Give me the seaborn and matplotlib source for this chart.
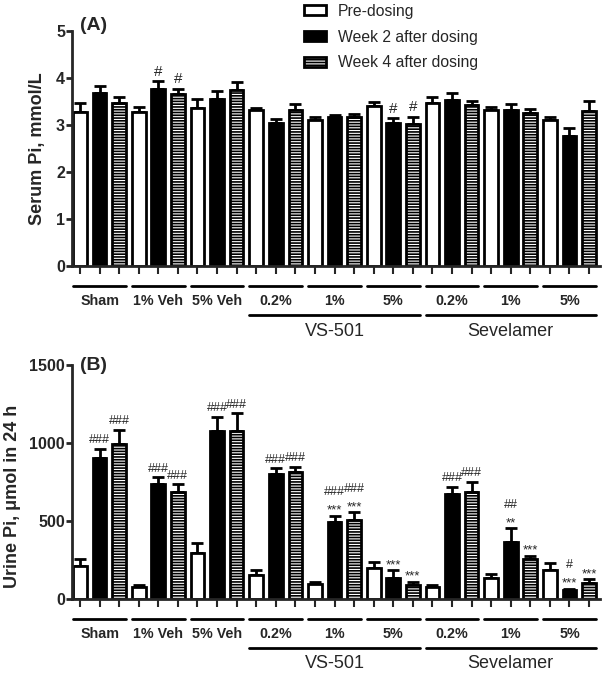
import numpy as np
import pandas as pd
import seaborn as sns
import matplotlib.pyplot as plt
import matplotlib.transforms as mtransforms
from matplotlib.patches import Patch

# data (mean, upper error)
groups = ['Sham', '1% Veh', '5% Veh', 'VS 0.2%', 'VS 1%', 'VS 5%', 'Sev 0.2%', 'Sev 1%', 'Sev 5%']
group_labels = ['Sham', '1% Veh', '5% Veh', '0.2%', '1%', '5%', '0.2%', '1%', '5%']
times = ['Pre-dosing', 'Week 2 after dosing', 'Week 4 after dosing']

serum_pre = [3.27, 3.28, 3.37, 3.31, 3.10, 3.41, 3.47, 3.31, 3.11]
serum_pre_sem = [0.20, 0.10, 0.19, 0.06, 0.07, 0.07, 0.12, 0.08, 0.07]
serum_wk2 = [3.69, 3.76, 3.56, 3.04, 3.18, 3.04, 3.54, 3.31, 2.76]
serum_wk2_sem = [0.14, 0.17, 0.16, 0.09, 0.04, 0.10, 0.14, 0.13, 0.17]
serum_wk4 = [3.47, 3.65, 3.75, 3.32, 3.17, 3.03, 3.42, 3.25, 3.30]
serum_wk4_sem = [0.13, 0.12, 0.17, 0.12, 0.07, 0.14, 0.10, 0.09, 0.22]
serum_hash_wk2 = ['', '#', '', '', '', '#', '', '', '']
serum_hash_wk4 = ['', '#', '', '', '', '#', '', '', '']

urine_pre = [213, 75, 294, 154, 96, 198, 77, 132, 184]
urine_pre_sem = [45, 17, 64, 34, 13, 41, 15, 28, 46]
urine_wk2 = [907, 736, 1077, 800, 491, 137, 672, 365, 55]
urine_wk2_sem = [55, 45, 92, 39, 42, 47, 49, 87, 11]
urine_wk4 = [994, 689, 1077, 811, 508, 92, 683, 254, 100]
urine_wk4_sem = [90, 45, 114, 38, 47, 19, 68, 23, 28]
urine_hash_wk2 = ['###', '###', '###', '###', '###', '', '###', '##', '#']
urine_hash_wk4 = ['###', '###', '###', '###', '###', '', '###', '', '']
urine_star_wk2 = ['', '', '', '', '***', '***', '', '**', '***']
urine_star_wk4 = ['', '', '', '', '***', '***', '', '***', '***']

sns.set_style('ticks')
plt.rcParams['font.family'] = ['Liberation Sans', 'DejaVu Sans']
plt.rcParams['font.weight'] = 'bold'
plt.rcParams['hatch.linewidth'] = 1.2
plt.rcParams['hatch.color'] = 'black'

fig = plt.figure(figsize=(6.03, 6.78), dpi=100)
axA = fig.add_axes([72/603, 1-266/678, 528/603, 235/678])
axB = fig.add_axes([72/603, 1-599/678, 528/603, 234/678])


def panel(ax, pre, wk2, wk4, errs, ymax, yticks, ylabel, tag, hash_size,
          hashes, stars=None, lab_pad=6, lab_y=0.5, tag_y=1.0):
    df = pd.DataFrame({'group': groups * 3,
                       'time': np.repeat(times, len(groups)),
                       'value': pre + wk2 + wk4})
    sns.barplot(data=df, x='group', y='value', hue='time', order=groups,
                hue_order=times, palette=['white', 'black', 'white'],
                saturation=1, width=1.0, gap=0.3, errorbar=None,
                edgecolor='black', linewidth=2, legend=False, ax=ax)
    for bar in ax.containers[2]:
        bar.set_hatch('------')

    centers = []
    tops = []
    for c, e in zip(ax.containers, errs):
        xs = [b.get_x() + b.get_width() / 2 for b in c]
        hs = [b.get_height() for b in c]
        ax.errorbar(xs, hs, yerr=[np.zeros(len(e)), e], fmt='none',
                    ecolor='black', elinewidth=2, capsize=4, capthick=2,
                    zorder=0.9)
        centers += xs
        tops.append([h + s for h, s in zip(hs, e)])

    # significance marks
    for k in (1, 2):
        xs = [b.get_x() + b.get_width() / 2 for b in ax.containers[k]]
        for i, x in enumerate(xs):
            top = tops[k][i]
            s = stars[k - 1][i] if stars else ''
            h = hashes[k - 1][i]
            if s:
                ax.annotate(s, (x, top), xytext=(0, 1.5), textcoords='offset points',
                            ha='center', va='baseline', fontsize=9.5,
                            fontweight='normal')
            if h:
                off = 15 if s else 4
                ax.annotate(h, (x, top), xytext=(0, off), textcoords='offset points',
                            ha='center', va='baseline', fontsize=hash_size,
                            fontweight='normal')

    ax.set_ylim(0, ymax)
    ax.set_yticks(yticks)
    ax.set_xlim(-0.47, 8.52)
    ax.set_xticks(sorted(centers))
    ax.set_xticklabels([])
    ax.set_xlabel('')
    ax.set_ylabel(ylabel, fontsize=13, fontweight='bold', labelpad=lab_pad)
    ax.yaxis.label.set_y(lab_y)
    ax.tick_params(axis='x', length=6, width=1.5, direction='out')
    ax.tick_params(axis='y', length=4, width=2, pad=1, labelsize=11.5)
    for side in ('left', 'bottom'):
        ax.spines[side].set_linewidth(2)
    sns.despine(ax=ax)

    # group lines and labels under the axis
    tr = mtransforms.blended_transform_factory(ax.transData, ax.transAxes)
    ph = ax.get_position().height * 678
    bw = ax.containers[0][0].get_width()
    for g, lab in enumerate(group_labels):
        x0 = ax.containers[0][g].get_x()
        x1 = ax.containers[2][g].get_x() + bw
        ax.plot([x0, x1], [-20/ph, -20/ph], color='black', lw=2,
                transform=tr, clip_on=False)
        ax.text((x0 + x1) / 2, -35/ph, lab, transform=tr, ha='center',
                va='center', fontsize=10.3, fontweight='bold')
    for (g0, g1, name) in [(3, 5, 'VS-501'), (6, 8, 'Sevelamer')]:
        x0 = ax.containers[0][g0].get_x()
        x1 = ax.containers[2][g1].get_x() + bw
        ax.plot([x0, x1], [-49/ph, -49/ph], color='black', lw=2,
                transform=tr, clip_on=False)
        ax.text((x0 + x1) / 2, -65/ph, name, transform=tr, ha='center',
                va='center', fontsize=13, fontweight='normal')

    ax.text(0.015, tag_y, tag, transform=ax.transAxes, fontsize=14,
            fontweight='bold', va='bottom', ha='left')


panel(axA, serum_pre, serum_wk2, serum_wk4,
      [serum_pre_sem, serum_wk2_sem, serum_wk4_sem], 5, [0, 1, 2, 3, 4, 5],
      'Serum Pi, mmol/L', '(A)', 11, [serum_hash_wk2, serum_hash_wk4],
      lab_pad=7, tag_y=1 - 3/235)
panel(axB, urine_pre, urine_wk2, urine_wk4,
      [urine_pre_sem, urine_wk2_sem, urine_wk4_sem], 1500, [0, 500, 1000, 1500],
      'Urine Pi, μmol in 24 h', '(B)', 9, [urine_hash_wk2, urine_hash_wk4],
      stars=[urine_star_wk2, urine_star_wk4], lab_pad=6, lab_y=0.44,
      tag_y=1 - 9/234)

handles = [Patch(facecolor='white', edgecolor='black', linewidth=2),
           Patch(facecolor='black', edgecolor='black', linewidth=2),
           Patch(facecolor='white', edgecolor='black', linewidth=2, hatch='------')]
fig.legend(handles, times, loc='upper left', bbox_to_anchor=(296/603, 1 + 4/678),
           frameon=False, borderpad=0, handlelength=1.4, handleheight=0.6,
           handletextpad=0.75, labelspacing=0.68,
           prop={'size': 11.3, 'weight': 'normal'})

fig.savefig('out.png', dpi=100)
